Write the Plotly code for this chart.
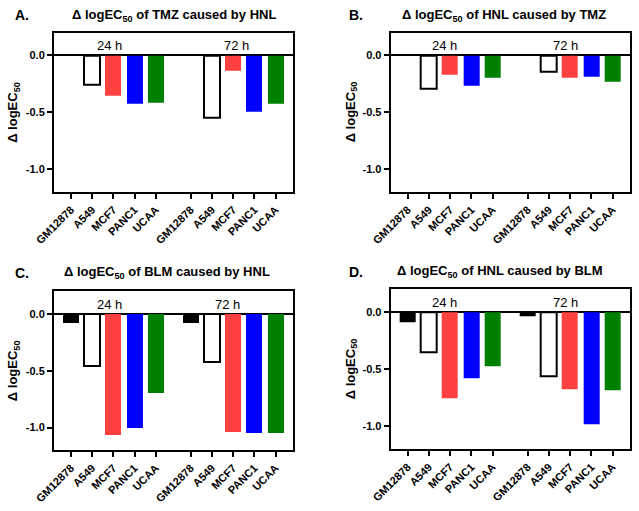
import plotly.graph_objects as go

# ---------------- data ----------------
cell_lines = ["GM12878", "A549", "MCF7", "PANC1", "UCAA"]
time_groups = ["24 h", "72 h"]
y_tick_vals = [0.0, -0.5, -1.0]
y_tick_text = ["0.0", "-0.5", "-1.0"]

panel_letters = ["A.", "B.", "C.", "D."]
panel_titles = [
    "Δ logEC<sub>50</sub> of TMZ caused by HNL",
    "Δ logEC<sub>50</sub> of HNL caused by TMZ",
    "Δ logEC<sub>50</sub> of BLM caused by HNL",
    "Δ logEC<sub>50</sub> of HNL caused by BLM",
]
y_title = "Δ logEC<sub>50</sub>"

tmz_by_hnl_24h = [None, -0.26, -0.355, -0.42, -0.415]
tmz_by_hnl_72h = [None, -0.545, -0.135, -0.49, -0.42]
hnl_by_tmz_24h = [None, -0.295, -0.165, -0.265, -0.195]
hnl_by_tmz_72h = [None, -0.145, -0.195, -0.183, -0.232]
blm_by_hnl_24h = [-0.085, -0.46, -1.07, -1.005, -0.70]
blm_by_hnl_72h = [-0.085, -0.425, -1.04, -1.05, -1.047]
hnl_by_blm_24h = [-0.09, -0.35, -0.758, -0.578, -0.47]
hnl_by_blm_72h = [-0.04, -0.557, -0.675, -0.98, -0.683]

panels = [
    (tmz_by_hnl_24h, tmz_by_hnl_72h),
    (hnl_by_tmz_24h, hnl_by_tmz_72h),
    (blm_by_hnl_24h, blm_by_hnl_72h),
    (hnl_by_blm_24h, hnl_by_blm_72h),
]

# ---------------- style ----------------
FONT = "Arial, Liberation Sans, sans-serif"
fill_colors = ["#000000", "#FFFFFF", "#FF4040", "#0000FF", "#008000"]
line_widths = [0, 2, 0, 0, 0]
group_gap = 5.65
bar_width = 0.75
x_range = [-0.8, 10.47]
y_range = [-1.2, 0.2]

x_domains = [[0.0845, 0.4585], [0.6114, 0.9859], [0.0845, 0.4585], [0.6114, 0.9859]]
y_domains = [[0.6243, 0.9360], [0.6243, 0.9360], [0.1188, 0.4305], [0.1207, 0.4338]]
letter_pos = [(12.5, 15), (346.5, 15), (12.5, 272.5), (346.5, 271.5)]
title_x = [173.8, 504, 167, 499.7]
title_y = [15, 15, 272.5, 271.5]
ytitle_x = [13.5, 351, 13.5, 351]
label_offsets = [(1.82, 2.17), (1.75, 1.78), (1.82, 1.75), (1.75, 1.78)]

W, H = 639, 511

x_pos = [i for i in range(len(cell_lines))] + [i + group_gap for i in range(len(cell_lines))]
x_labels = cell_lines + cell_lines


def ax_id(letter, n):
    return letter if n == 1 else f"{letter}{n}"


def ax_key(letter, n):
    return f"{letter}axis" if n == 1 else f"{letter}axis{n}"


fig = go.Figure()
layout = dict(
    width=W, height=H, margin=dict(l=0, r=0, t=0, b=0, autoexpand=False),
    plot_bgcolor="white", paper_bgcolor="white", showlegend=False,
    font=dict(family=FONT, color="black"), bargap=0,
)
annotations = []
bold11 = dict(family=FONT, size=11, color="black", weight="bold")

for p, (g24, g72) in enumerate(panels):
    n = p + 1
    xa, ya = ax_id("x", n), ax_id("y", n)
    vals = list(g24) + list(g72)
    fig.add_trace(go.Bar(
        x=x_pos, y=vals, width=bar_width,
        marker=dict(color=fill_colors * 2,
                    line=dict(color="black", width=line_widths * 2)),
        xaxis=xa, yaxis=ya, hoverinfo="skip",
    ))

    layout[ax_key("x", n)] = dict(
        domain=x_domains[p], anchor=ya, range=x_range, fixedrange=True, automargin=False,
        tickmode="array", tickvals=x_pos, ticktext=x_labels, tickangle=-45,
        showline=True, linecolor="black", linewidth=2, mirror=True,
        ticks="outside", tickcolor="black", ticklen=5, tickwidth=2,
        showgrid=False, zeroline=False, tickfont=bold11,
    )
    layout[ax_key("y", n)] = dict(
        domain=y_domains[p], anchor=xa, range=y_range, fixedrange=True, automargin=False,
        tickmode="array", tickvals=y_tick_vals, ticktext=y_tick_text,
        showline=True, linecolor="black", linewidth=2, mirror=True,
        ticks="outside", tickcolor="black", ticklen=5, tickwidth=2,
        showgrid=False, zeroline=True, zerolinecolor="black", zerolinewidth=2,
        tickfont=bold11,
    )
    # frame ticks pointing inward on the top and right sides
    layout[ax_key("x", n + 4)] = dict(
        overlaying=xa, anchor=ya, side="top", range=x_range, fixedrange=True,
        automargin=False, tickmode="array", tickvals=x_pos, showticklabels=False,
        ticks="inside", tickcolor="black", ticklen=5, tickwidth=2,
        showline=False, showgrid=False, zeroline=False,
    )
    layout[ax_key("y", n + 4)] = dict(
        overlaying=ya, anchor=xa, side="right", range=y_range, fixedrange=True,
        automargin=False, tickmode="array", tickvals=y_tick_vals, showticklabels=False,
        ticks="inside", tickcolor="black", ticklen=5, tickwidth=2,
        showline=False, showgrid=False, zeroline=False,
    )

    # panel letter
    lx, ly = letter_pos[p]
    annotations.append(dict(
        text=panel_letters[p], x=lx / W, y=1 - ly / H, xref="paper", yref="paper",
        xanchor="left", yanchor="middle", showarrow=False,
        font=dict(family=FONT, size=14, color="black", weight="bold"),
    ))
    # title
    annotations.append(dict(
        text=panel_titles[p], x=title_x[p] / W, y=1 - title_y[p] / H,
        xref="paper", yref="paper", xanchor="center", yanchor="middle", showarrow=False,
        font=dict(family=FONT, size=13, color="black", weight="bold"),
    ))
    # y-axis title
    annotations.append(dict(
        text=y_title, x=ytitle_x[p] / W, y=sum(y_domains[p]) / 2,
        xref="paper", yref="paper", xanchor="center", yanchor="middle",
        textangle=-90, showarrow=False,
        font=dict(family=FONT, size=13, color="black", weight="bold"),
    ))
    # group labels
    for g, label in enumerate(time_groups):
        annotations.append(dict(
            text=label, x=label_offsets[p][g] + g * group_gap, y=0,
            xref=xa, yref=ya, xanchor="center", yanchor="bottom", showarrow=False,
            font=dict(family=FONT, size=13, color="black"),
        ))

layout["annotations"] = annotations
fig.update_layout(**layout)
fig.write_html("out.html", config={"displayModeBar": False},
               post_script="document.body.style.margin='0';")
